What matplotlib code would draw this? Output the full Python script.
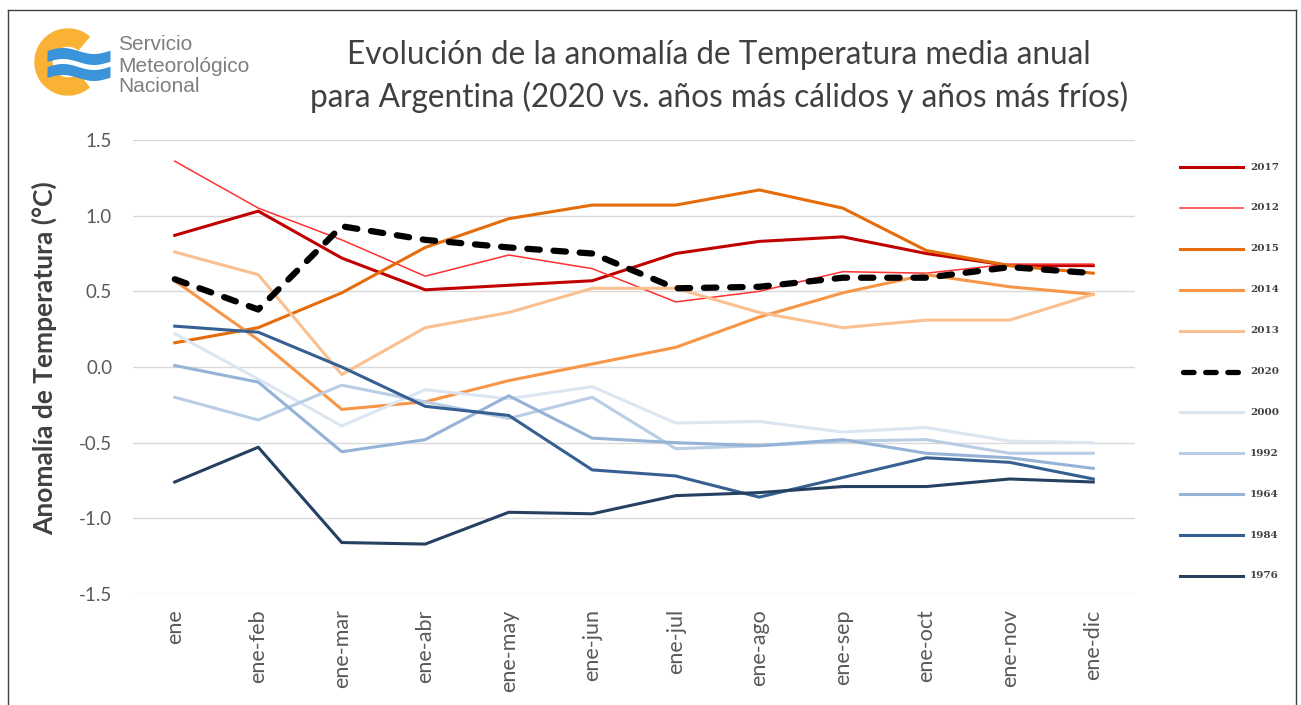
import numpy as np
import matplotlib
matplotlib.use('Agg')
import matplotlib.pyplot as plt
from matplotlib.patches import Wedge
from matplotlib.lines import Line2D

# data (anomalía acumulada, °C)
meses = ['ene', 'ene-feb', 'ene-mar', 'ene-abr', 'ene-may', 'ene-jun',
         'ene-jul', 'ene-ago', 'ene-sep', 'ene-oct', 'ene-nov', 'ene-dic']

a2017 = [0.87, 1.03, 0.72, 0.51, 0.54, 0.57, 0.75, 0.83, 0.86, 0.75, 0.67, 0.67]
a2012 = [1.36, 1.05, 0.84, 0.60, 0.74, 0.65, 0.43, 0.50, 0.63, 0.62, 0.68, 0.68]
a2015 = [0.16, 0.26, 0.49, 0.79, 0.98, 1.07, 1.07, 1.17, 1.05, 0.77, 0.67, 0.62]
a2014 = [0.57, 0.18, -0.28, -0.23, -0.09, 0.02, 0.13, 0.33, 0.49, 0.61, 0.53, 0.48]
a2013 = [0.76, 0.61, -0.05, 0.26, 0.36, 0.52, 0.52, 0.36, 0.26, 0.31, 0.31, 0.48]
a2020 = [0.58, 0.38, 0.93, 0.84, 0.79, 0.75, 0.52, 0.53, 0.59, 0.59, 0.66, 0.62]
a2000 = [0.22, -0.08, -0.39, -0.15, -0.21, -0.13, -0.37, -0.36, -0.43, -0.40, -0.49, -0.50]
a1992 = [-0.20, -0.35, -0.12, -0.23, -0.34, -0.20, -0.54, -0.52, -0.49, -0.48, -0.57, -0.57]
a1964 = [0.01, -0.10, -0.56, -0.48, -0.19, -0.47, -0.50, -0.52, -0.48, -0.57, -0.60, -0.67]
a1984 = [0.27, 0.23, 0.00, -0.26, -0.32, -0.68, -0.72, -0.86, -0.73, -0.60, -0.63, -0.74]
a1976 = [-0.76, -0.53, -1.16, -1.17, -0.96, -0.97, -0.85, -0.83, -0.79, -0.79, -0.74, -0.76]

years = ['2017', '2012', '2015', '2014', '2013', '2020', '2000', '1992', '1964', '1984', '1976']
values = [a2017, a2012, a2015, a2014, a2013, a2020, a2000, a1992, a1964, a1984, a1976]

colors = ['#C00000', '#FF3030', '#E46C0A', '#F79646', '#FAC090', '#000000',
          '#DCE6F2', '#B9CDE5', '#95B3D7', '#376092', '#254061']
widths = [2.2, 1.1, 2.2, 2.2, 2.2, 4.5, 2.2, 2.2, 2.2, 2.2, 2.2]
dash2020 = (0, (2.0, 2.2))

W, H = 1301, 705
fig = plt.figure(figsize=(W / 100, H / 100), dpi=100)
fig.patch.set_facecolor('white')

def fx(x):
    return x / W

def fy(y):
    return 1 - y / H

ax = fig.add_axes([fx(133), fy(594), (1135 - 133) / W, (594 - 140) / H])
x = np.arange(len(meses))

for yr, v, c, lw in zip(years, values, colors, widths):
    if yr == '2020':
        ax.plot(x, v, color=c, lw=lw, ls=dash2020,
                dash_capstyle='round', solid_joinstyle='round', zorder=5)
    else:
        ax.plot(x, v, color=c, lw=lw, solid_joinstyle='round', zorder=3)

ax.set_xlim(-0.5, len(meses) - 0.5)
ax.set_ylim(-1.5, 1.5)
ax.set_yticks(np.arange(-1.5, 1.51, 0.5))
ax.set_yticklabels(['%.1f' % t for t in np.arange(-1.5, 1.51, 0.5)])
ax.set_xticks(x)
ax.set_xticklabels(meses, rotation=90)
ax.grid(axis='y', color='#D9D9D9', lw=1)
ax.set_axisbelow(True)
for s in ax.spines.values():
    s.set_visible(False)
ax.tick_params(axis='both', length=0, colors='#595959', labelsize=13.5)
ax.tick_params(axis='y', pad=15)
ax.tick_params(axis='x', pad=11, labelsize=15.5)
for t in ax.get_xticklabels() + ax.get_yticklabels():
    t.set_fontfamily('Lato')

ax.set_ylabel('Anomalía de Temperatura (°C)', fontsize=19, fontweight='bold',
              color='#404040', fontfamily='Lato')
ax.yaxis.set_label_coords(-0.076, 0.52)

# title
fig.text(fx(719), fy(55), 'Evolución de la anomalía de Temperatura media anual',
         ha='center', va='center', fontsize=22.7, color='#404040', fontfamily='Lato')
fig.text(fx(719), fy(97), 'para Argentina (2020 vs. años más cálidos y años más fríos)',
         ha='center', va='center', fontsize=22.7, color='#404040', fontfamily='Lato')

# legend at right
for i, (yr, c, lw) in enumerate(zip(years, colors, widths)):
    yy = fy(167 + i * 40.9)
    if yr == '2020':
        ln = Line2D([fx(1183), fx(1240)], [yy, yy], color=c, lw=3.8,
                    ls=dash2020, dash_capstyle='round', transform=fig.transFigure)
    else:
        ln = Line2D([fx(1180), fx(1243)], [yy, yy], color=c, lw=lw,
                    transform=fig.transFigure)
    fig.add_artist(ln)
    fig.text(fx(1250), yy, yr, ha='left', va='center', fontsize=7.5,
             color='#404040', fontfamily='DejaVu Serif', fontweight='bold')

# logo
lax = fig.add_axes([fx(30), fy(102), 85 / W, 80 / H])
lax.set_xlim(30, 115)
lax.set_ylim(102, 22)
lax.axis('off')
lax.add_patch(Wedge((68, 62), 33, 50, 310, width=17, color='#F9B233'))
xs = np.linspace(47, 110, 60)
c1 = 56 - 3 * np.sin(np.pi * (xs - 47) / 31)
c2 = 72 - 3 * np.sin(np.pi * (xs - 47) / 31)
lax.fill_between(xs, c1 - 5.5, c1 + 5.5, color='#3B94D9', lw=0)
lax.fill_between(xs, c2 - 5.5, c2 + 5.5, color='#3B94D9', lw=0)
for txt, yy in zip(['Servicio', 'Meteorológico', 'Nacional'], [45, 66, 87]):
    fig.text(fx(118), fy(yy), txt, ha='left', va='center', fontsize=15,
             color='#7F7F7F', fontfamily='Liberation Sans')

# frame around the picture
for xa, ya in [([8, 8], [10, H]), ([8, 1296], [10, 10]), ([1296, 1296], [10, H])]:
    fig.add_artist(Line2D([fx(v) for v in xa], [fy(v) for v in ya],
                          color='#404040', lw=1, transform=fig.transFigure))

fig.savefig('out.png', dpi=100, facecolor='white')
